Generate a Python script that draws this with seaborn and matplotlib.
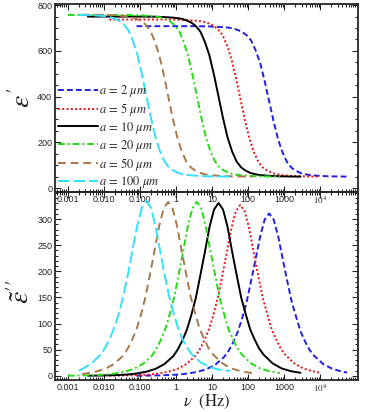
import matplotlib
matplotlib.use("Agg")
import numpy as np
import pandas as pd
import matplotlib.pyplot as plt
import matplotlib.ticker as mticker
import seaborn as sns

# values: frequency (Hz), eps' and eps'' for each radius
nu_a2 = [0.08, 0.12, 0.214, 0.38, 0.676, 1.2, 2.14, 3.8, 6.76, 12.0,
         21.4, 28.5, 38, 50.7, 67.6, 90.1, 120, 160, 214, 285,
         380, 507, 676, 901, 1200, 1602, 2140, 2850, 3800, 5069,
         6760, 12000, 21400, 38000, 55000]
eps1_a2 = [708, 708, 708, 708, 708, 708, 708, 708, 707.3, 706,
           703.4, 701.4, 698, 691.6, 683, 668.5, 645.5, 602.7, 547, 467.8,
           379, 290.2, 211, 154, 112.5, 88.2, 75, 65.8, 60.5, 57.2,
           55.3, 52.6, 51.3, 50.7, 50.4]
eps2_a2 = [0.2, 0.3, 0.56, 0.93, 1.6, 2.5, 4.4, 7.5, 12.4, 21,
           36, 47.9, 64, 83.3, 110, 141.5, 182, 223.9, 267, 299.2,
           311, 299.2, 267, 223.9, 182, 141.5, 112, 84, 65, 49.1,
           38, 22.4, 13.4, 8.4, 6.2]

nu_a5 = [0.014, 0.019, 0.0337, 0.06, 0.107, 0.19, 0.337, 0.6, 1.07, 1.9,
         3.37, 4.5, 6.0, 8.0, 10.7, 14.2, 19, 25.3, 33.7, 45.0,
         60, 80, 107, 142, 190, 253, 337, 450, 600, 800,
         1070, 1900, 3370, 6000, 9400]
eps1_a5 = [737, 737, 737, 737, 737, 737, 737, 737, 736.3, 735,
           732.2, 730.1, 726.7, 719.8, 711, 695.8, 671.7, 627.1, 568.7, 486.2,
           393.5, 300.8, 218.3, 158.5, 115.3, 89.8, 76.1, 66.5, 61, 57.6,
           55.5, 52.7, 51.4, 50.7, 50.3]
eps2_a5 = [0.25, 0.33, 0.59, 0.98, 1.6, 2.6, 4.6, 7.8, 13.1, 22.2,
           37.6, 50.4, 67, 87.6, 116, 148.8, 191, 235.4, 281, 314.6,
           327, 314.6, 281, 235.4, 191, 148.8, 118, 88.3, 69, 51.7,
           40, 23.5, 14.1, 8.8, 6.2]

nu_a10 = [0.0036, 0.00474, 0.00843, 0.015, 0.0267, 0.0474, 0.0843, 0.15, 0.267, 0.474,
          0.843, 1.125, 1.5, 2.0, 2.67, 3.56, 4.74, 6.33, 8.43, 11.25,
          15, 20, 26.7, 35.6, 47.4, 63.3, 84.3, 112.5, 150, 200,
          267, 474, 843, 1500, 2800]
eps1_a10 = [750, 750, 750, 750, 750, 750, 750, 750, 749.3, 747.9,
            745.1, 743, 739.5, 732.5, 723.4, 708, 683.5, 638, 578.5, 494.5,
            400, 305.5, 221.5, 160.6, 116.5, 90.6, 76.6, 66.8, 61.2, 57.7,
            55.6, 52.8, 51.4, 50.7, 50.3]
eps2_a10 = [0.25, 0.33, 0.6, 0.99, 1.65, 2.6, 4.6, 7.9, 13.2, 22.5,
            38, 51, 68, 88.7, 117.5, 150.6, 194, 238.3, 285, 318.4,
            331, 318.4, 285, 238.3, 194, 150.6, 119, 89.4, 69.5, 52.3,
            40.4, 23.8, 14.2, 8.9, 5.8]

nu_a20 = [0.001, 0.00119, 0.00211, 0.00375, 0.00667, 0.0119, 0.0211, 0.0375, 0.0667, 0.119,
          0.211, 0.281, 0.375, 0.5, 0.667, 0.889, 1.19, 1.58, 2.11, 2.81,
          3.75, 5.0, 6.67, 8.89, 11.9, 15.8, 21.1, 28.1, 37.5, 50,
          66.7, 119, 211, 375, 750]
eps1_a20 = [757, 757, 757, 757, 757, 757, 757, 757, 756.3, 754.9,
            752, 749.9, 746.4, 739.3, 730.1, 714.6, 689.8, 643.9, 583.8, 498.9,
            403.5, 308.1, 223.2, 161.7, 117.2, 91, 76.9, 67, 61.3, 57.8,
            55.7, 52.8, 51.4, 50.7, 50.3]
eps2_a20 = [0.28, 0.33, 0.6, 1.0, 1.67, 2.7, 4.7, 8.0, 13.3, 22.6,
            38.3, 51.3, 68.3, 89.2, 118, 151.5, 195, 239.8, 286, 320.3,
            333, 320.3, 286, 239.8, 195, 151.5, 120, 89.9, 70, 52.6,
            40.6, 24, 14.3, 9, 5.4]

nu_a50 = [0.0025, 0.00337, 0.006, 0.0107, 0.019, 0.0337, 0.045, 0.06, 0.08, 0.107,
          0.142, 0.19, 0.253, 0.337, 0.45, 0.6, 0.8, 1.07, 1.42, 1.9,
          2.53, 3.37, 4.5, 6.0, 8.0, 10.7, 19, 33.7, 60, 107, 130]
eps1_a50 = [758, 758, 758, 757.3, 755.9, 753, 750.9, 747.4, 740.3, 731,
            715.5, 690.7, 644.7, 584.5, 499.6, 404, 308.4, 223.5, 161.9, 117.3,
            91.1, 76.9, 67, 61.3, 57.8, 55.7, 52.8, 51.4, 50.7, 50.4, 50.3]
eps2_a50 = [3.6, 4.7, 8.0, 13.3, 22.6, 38.3, 51.3, 68.3, 89.2, 118,
            151.5, 195, 239.8, 286, 320.3, 333, 320.3, 286, 239.8, 195,
            151.5, 120, 89.9, 70, 52.6, 40.6, 24, 14.3, 9, 6, 5.3]

nu_a100 = [0.002, 0.00267, 0.00474, 0.00843, 0.01125, 0.015, 0.02, 0.0267, 0.0356, 0.0474,
           0.0633, 0.0843, 0.1125, 0.15, 0.2, 0.267, 0.356, 0.474, 0.633, 0.843,
           1.125, 1.5, 2.0, 2.67, 4.74, 8.43, 15, 26.7, 32]
eps1_a100 = [757.5, 757.3, 755.9, 753, 750.9, 747.4, 740.3, 731, 715.5, 690.7,
             644.7, 584.5, 499.6, 404, 308.4, 223.5, 161.9, 117.3, 91.1, 76.9,
             67, 61.3, 57.8, 55.7, 52.8, 51.4, 50.7, 50.4, 50.3]
eps2_a100 = [10, 14, 25, 42, 56, 73, 95, 122, 158, 198,
             245, 288, 322, 335, 322, 288, 241, 196, 154, 121,
             92, 70, 54, 42, 26, 17, 12, 10, 9.5]

radii = [2, 5, 10, 20, 50, 100]
colors = ["#1f1fe6", "#f01010", "#000000", "#22dd11", "#a8784a", "#33e0ff"]
styles = [(0, (3, 1.6)), (0, (1, 1.2)), "-", (0, (3.5, 1.5, 1, 1.5)), (0, (4, 2.5)), (0, (6, 2))]

frames = []
for a, nu, e1, e2 in [(2, nu_a2, eps1_a2, eps2_a2), (5, nu_a5, eps1_a5, eps2_a5),
                      (10, nu_a10, eps1_a10, eps2_a10), (20, nu_a20, eps1_a20, eps2_a20),
                      (50, nu_a50, eps1_a50, eps2_a50), (100, nu_a100, eps1_a100, eps2_a100)]:
    frames.append(pd.DataFrame({"nu": nu, "eps1": e1, "eps2": e2, "a": a}))
df = pd.concat(frames, ignore_index=True)

sns.set_style("ticks")
plt.rcParams["font.family"] = ["Liberation Sans", "DejaVu Sans"]
plt.rcParams["mathtext.fontset"] = "stix"

fig = plt.figure(figsize=(3.74, 4.12), dpi=100)
ax1 = fig.add_axes([55 / 374, 1 - 192 / 412, 303 / 374, 188 / 412])
ax2 = fig.add_axes([55 / 374, 1 - 380 / 412, 303 / 374, 188 / 412])
ax2.patch.set_visible(False)

for a, c, ls in zip(radii, colors, styles):
    sub = df[df["a"] == a]
    label = rf"$a\,=\,{a}\ \mu m$"
    sns.lineplot(data=sub, x="nu", y="eps1", ax=ax1, color=c, linestyle=ls, lw=1.4,
                 estimator=None, sort=False, label=label)
    sns.lineplot(data=sub, x="nu", y="eps2", ax=ax2, color=c, linestyle=ls, lw=1.4,
                 estimator=None, sort=False, legend=False)

xmajor = [1e-3, 1e-2, 1e-1, 1, 10, 100, 1000, 1e4]
xlabels = ["0.001", "0.010", "0.100", "1", "10", "100", "1000", r"$10^4$"]

for ax in (ax1, ax2):
    ax.set_xscale("log")
    ax.set_xlim(4.4e-4, 1.1e5)
    ax.set_xticks(xmajor)
    ax.set_xticklabels(xlabels)
    ax.xaxis.set_minor_locator(mticker.LogLocator(base=10, subs=np.arange(2, 10), numticks=20))
    ax.xaxis.set_minor_formatter(mticker.NullFormatter())
    ax.tick_params(which="both", direction="in", top=True, right=True, labelsize=6.5,
                   width=0.8, pad=2)
    ax.tick_params(which="major", length=4)
    ax.tick_params(which="minor", length=2)
    for s in ax.spines.values():
        s.set_linewidth(1.3)
    ax.set_xlabel("")

ax1.set_ylim(-17, 805)
ax1.set_yticks([0, 200, 400, 600, 800])
ax1.yaxis.set_minor_locator(mticker.MultipleLocator(50))
ax1.set_ylabel(r"$\epsilon'$", fontsize=20, labelpad=0)
ax1.yaxis.set_label_coords(-0.062, 0.5)

ax2.set_ylim(-8, 352)
ax2.set_yticks([0, 50, 100, 150, 200, 250, 300])
ax2.yaxis.set_minor_locator(mticker.MultipleLocator(10))
ax2.set_ylabel(r"$\tilde{\epsilon}''$", fontsize=20, labelpad=0)
ax2.yaxis.set_label_coords(-0.066, 0.47)
ax2.set_xlabel(r"$\nu\ \ (\mathrm{Hz})$", fontsize=12, labelpad=0)
ax2.xaxis.set_label_coords(0.5, -0.066)

leg = ax1.legend(loc="lower left", bbox_to_anchor=(0.0, -0.005), frameon=False,
                 fontsize=9, handlelength=3.2, handletextpad=0.15, labelspacing=0.15,
                 borderpad=0.2, borderaxespad=0.0)

fig.savefig("out.png", dpi=100)
